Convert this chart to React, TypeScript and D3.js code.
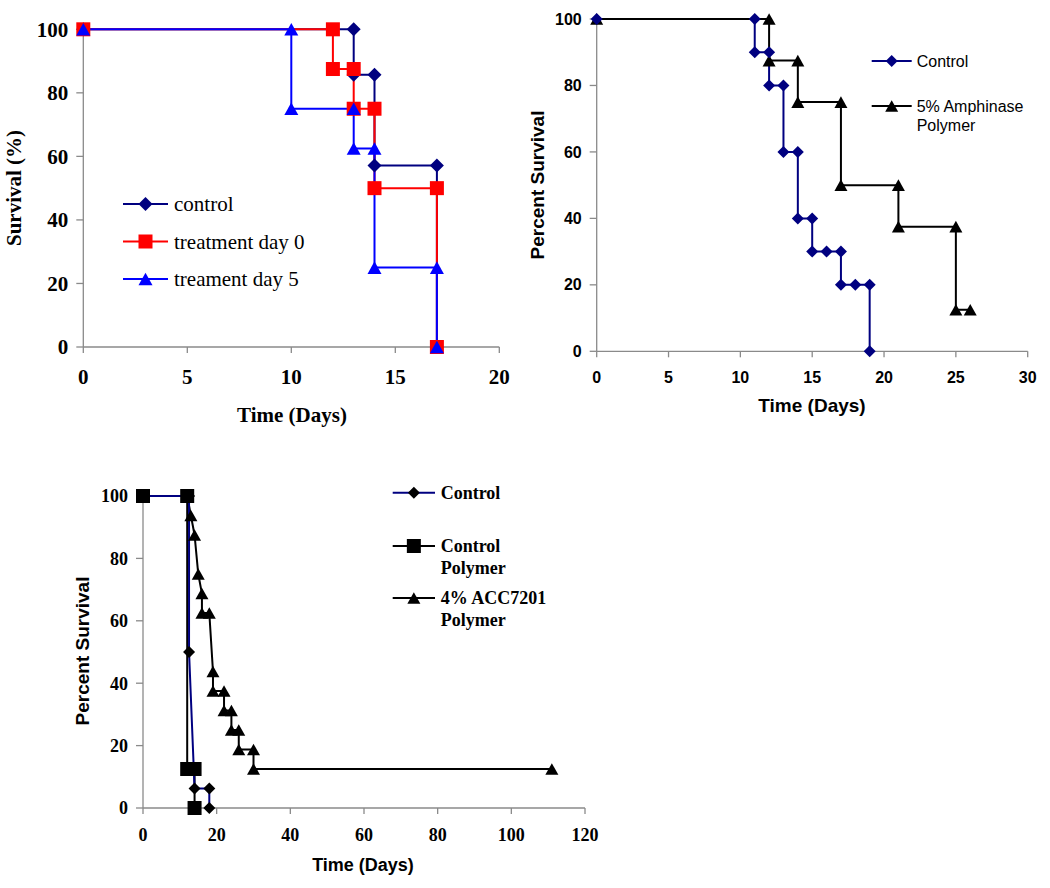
import React from "react";
import * as d3 from "d3";

// ---------- Panel 1 data ----------
const p1XTicks = [0, 5, 10, 15, 20];
const p1YTicks = [0, 20, 40, 60, 80, 100];
const p1ControlT = [0, 13, 13, 14, 14, 17, 17];
const p1ControlS = [100, 100, 85.7, 85.7, 57.1, 57.1, 0];
const p1Day0T = [0, 12, 12, 13, 13, 14, 14, 17, 17];
const p1Day0S = [100, 100, 87.5, 87.5, 75, 75, 50, 50, 0];
const p1Day5T = [0, 10, 10, 13, 13, 14, 14, 17, 17];
const p1Day5S = [100, 100, 75, 75, 62.5, 62.5, 25, 25, 0];
const p1Labels = ["control", "treatment day 0", "treament day 5"];

// ---------- Panel 2 data ----------
const p2XTicks = [0, 5, 10, 15, 20, 25, 30];
const p2YTicks = [0, 20, 40, 60, 80, 100];
const p2ControlT = [0, 11, 11, 12, 12, 13, 13, 14, 14, 15, 15, 16, 17, 17, 18, 19, 19];
const p2ControlS = [100, 100, 90, 90, 80, 80, 60, 60, 40, 40, 30, 30, 30, 20, 20, 20, 0];
const p2AmphT = [0, 12, 12, 14, 14, 17, 17, 21, 21, 25, 25, 26];
const p2AmphS = [100, 100, 87.5, 87.5, 75, 75, 50, 50, 37.5, 37.5, 12.5, 12.5];
const p2Labels = [["Control"], ["5% Amphinase", "Polymer"]];

// ---------- Panel 3 data ----------
const p3XTicks = [0, 20, 40, 60, 80, 100, 120];
const p3YTicks = [0, 20, 40, 60, 80, 100];
const p3ControlT = [0, 12.5, 12.5, 14, 18, 18];
const p3ControlS = [100, 100, 50, 6.25, 6.25, 0];
const p3CtrlPolyT = [0, 12, 12, 14, 14];
const p3CtrlPolyS = [100, 100, 12.5, 12.5, 0];
const p3AccT = [0, 12, 13, 14, 15, 16, 16, 18, 19, 19, 22, 22, 24, 24, 26, 26, 30, 30, 111];
const p3AccS = [100, 100, 93.75, 87.5, 75, 68.75, 62.5, 62.5, 43.75, 37.5, 37.5, 31.25, 31.25, 25, 25, 18.75, 18.75, 12.5, 12.5];
const p3Labels = [["Control"], ["Control", "Polymer"], ["4% ACC7201", "Polymer"]];

const SERIF = "'Liberation Serif', 'Times New Roman', serif";
const SANS = "'Liberation Sans', Arial, sans-serif";
const AXIS = "#8a8a8a";

type Shape = "diamond" | "square" | "triangle";

function Marker({ shape, cx, cy, size, fill }: { shape: Shape; cx: number; cy: number; size: number; fill: string }) {
  if (shape === "square") {
    return <rect x={cx - size / 2} y={cy - size / 2} width={size} height={size} fill={fill} />;
  }
  if (shape === "diamond") {
    const r = size / 2;
    return <polygon points={`${cx},${cy - r} ${cx + r},${cy} ${cx},${cy + r} ${cx - r},${cy}`} fill={fill} />;
  }
  const w = size, h = size * 0.9;
  return <polygon points={`${cx},${cy - h / 2} ${cx + w / 2},${cy + h / 2} ${cx - w / 2},${cy + h / 2}`} fill={fill} />;
}

type Series = { t: number[]; s: number[]; line: string; marker: string; shape: Shape; size: number };

function Axes({ x, y, xTicks, yTicks, font, size, weight }: any) {
  const [x0, x1] = x.range();
  const [y0, y1] = y.range();
  return (
    <g>
      <line x1={x0} x2={x0} y1={y0} y2={y1} stroke={AXIS} strokeWidth={1.3} />
      <line x1={x0} x2={x1} y1={y0} y2={y0} stroke={AXIS} strokeWidth={1.3} />
      {yTicks.map((v: number) => (
        <g key={"y" + v}>
          <line x1={x0 - 7} x2={x0} y1={y(v)} y2={y(v)} stroke={AXIS} strokeWidth={1.3} />
          <text x={x0 - 15} y={y(v)} dy="0.35em" textAnchor="end" fontFamily={font} fontSize={size} fontWeight={weight}>
            {v}
          </text>
        </g>
      ))}
      {xTicks.map((v: number) => (
        <line key={"x" + v} x1={x(v)} x2={x(v)} y1={y0} y2={y0 + 6} stroke={AXIS} strokeWidth={1.3} />
      ))}
    </g>
  );
}

function SeriesLayer({ x, y, series, markerOrder }: { x: any; y: any; series: Series[]; markerOrder: number[] }) {
  return (
    <g>
      {series.map((sr, k) => {
        const pts: [number, number][] = sr.t.map((t, i) => [x(t), y(sr.s[i])]);
        const d = d3.line()(pts) || "";
        return <path key={"l" + k} d={d} fill="none" stroke={sr.line} strokeWidth={2} />;
      })}
      {markerOrder.map((k) => {
        const sr = series[k];
        return (
          <g key={"m" + k}>
            {sr.t.map((t, i) => (
              <Marker key={i} shape={sr.shape} cx={x(t)} cy={y(sr.s[i])} size={sr.size} fill={sr.marker} />
            ))}
          </g>
        );
      })}
    </g>
  );
}

function LegendItem({ x1, x2, y, color, marker, shape, size, lines, font, fontSize, weight, textX, lh }: any) {
  return (
    <g>
      <line x1={x1} x2={x2} y1={y} y2={y} stroke={color} strokeWidth={2} />
      <Marker shape={shape} cx={(x1 + x2) / 2} cy={y} size={size} fill={marker} />
      {lines.map((l: string, i: number) => (
        <text key={i} x={textX} y={y + i * lh} dy="0.35em" fontFamily={font} fontSize={fontSize} fontWeight={weight}>
          {l}
        </text>
      ))}
    </g>
  );
}

export default function App() {
  // Panel 1
  const x1 = d3.scaleLinear().domain([0, 20]).range([83.3, 499.3]);
  const y1 = d3.scaleLinear().domain([0, 100]).range([347, 29.3]);
  const s1: Series[] = [
    { t: p1ControlT, s: p1ControlS, line: "#000080", marker: "#000080", shape: "diamond", size: 14 },
    { t: p1Day0T, s: p1Day0S, line: "#ff0000", marker: "#ff0000", shape: "square", size: 14 },
    { t: p1Day5T, s: p1Day5S, line: "#0000ff", marker: "#0000ff", shape: "triangle", size: 14 },
  ];
  // Panel 2
  const x2 = d3.scaleLinear().domain([0, 30]).range([596.7, 1027.7]);
  const y2 = d3.scaleLinear().domain([0, 100]).range([351.3, 19]);
  const s2: Series[] = [
    { t: p2ControlT, s: p2ControlS, line: "#000080", marker: "#000080", shape: "diamond", size: 12 },
    { t: p2AmphT, s: p2AmphS, line: "#000000", marker: "#000000", shape: "triangle", size: 13 },
  ];
  // Panel 3
  const x3 = d3.scaleLinear().domain([0, 120]).range([143, 585]);
  const y3 = d3.scaleLinear().domain([0, 100]).range([808, 496]);
  const s3: Series[] = [
    { t: p3CtrlPolyT, s: p3CtrlPolyS, line: "#000000", marker: "#000000", shape: "square", size: 14 },
    { t: p3AccT, s: p3AccS, line: "#000000", marker: "#000000", shape: "triangle", size: 13 },
    { t: p3ControlT, s: p3ControlS, line: "#000080", marker: "#000000", shape: "diamond", size: 12 },
  ];

  return (
    <svg width={1050} height={888} style={{ position: "absolute", left: 0, top: 0, background: "#fff" }}>
      <rect width={1050} height={888} fill="#fff" />
      {/* Panel 1 */}
      <Axes x={x1} y={y1} xTicks={p1XTicks} yTicks={p1YTicks} font={SERIF} size={21} weight="bold" />
      {p1XTicks.map((v) => (
        <text key={v} x={x1(v)} y={377} dy="0.35em" textAnchor="middle" fontFamily={SERIF} fontSize={21} fontWeight="bold">
          {v}
        </text>
      ))}
      <text x={292} y={415} dy="0.35em" textAnchor="middle" fontFamily={SERIF} fontSize={21} fontWeight="bold">
        Time (Days)
      </text>
      <text transform="translate(14,188) rotate(-90)" dy="0.35em" textAnchor="middle" fontFamily={SERIF} fontSize={21} fontWeight="bold">
        Survival (%)
      </text>
      <SeriesLayer x={x1} y={y1} series={s1} markerOrder={[0, 1, 2]} />
      {s1.map((sr, i) => (
        <LegendItem key={i} x1={123} x2={168} y={204 + i * 37.5} color={sr.line} marker={sr.marker} shape={sr.shape} size={sr.size}
          lines={[p1Labels[i]]} font={SERIF} fontSize={21} weight="normal" textX={174} lh={22} />
      ))}

      {/* Panel 2 */}
      <Axes x={x2} y={y2} xTicks={p2XTicks} yTicks={p2YTicks} font={SANS} size={16} weight="bold" />
      {p2XTicks.map((v) => (
        <text key={v} x={x2(v)} y={377} dy="0.35em" textAnchor="middle" fontFamily={SANS} fontSize={16} fontWeight="bold">
          {v}
        </text>
      ))}
      <text x={812} y={405} dy="0.35em" textAnchor="middle" fontFamily={SANS} fontSize={19} fontWeight="bold">
        Time (Days)
      </text>
      <text transform="translate(537,185) rotate(-90)" dy="0.35em" textAnchor="middle" fontFamily={SANS} fontSize={19} fontWeight="bold">
        Percent Survival
      </text>
      <SeriesLayer x={x2} y={y2} series={s2} markerOrder={[1, 0]} />
      {s2.map((sr, i) => (
        <LegendItem key={i} x1={871.7} x2={911.7} y={61 + i * 45} color={sr.line} marker={sr.marker} shape={sr.shape} size={sr.size}
          lines={p2Labels[i]} font={SANS} fontSize={16} weight="normal" textX={916.7} lh={19} />
      ))}

      {/* Panel 3 */}
      <Axes x={x3} y={y3} xTicks={p3XTicks} yTicks={p3YTicks} font={SERIF} size={18} weight="bold" />
      {p3XTicks.map((v) => (
        <text key={v} x={x3(v)} y={835} dy="0.35em" textAnchor="middle" fontFamily={SERIF} fontSize={18} fontWeight="bold">
          {v}
        </text>
      ))}
      <text x={363} y={865} dy="0.35em" textAnchor="middle" fontFamily={SANS} fontSize={18} fontWeight="bold">
        Time (Days)
      </text>
      <text transform="translate(82,651) rotate(-90)" dy="0.35em" textAnchor="middle" fontFamily={SANS} fontSize={19} fontWeight="bold">
        Percent Survival
      </text>
      <SeriesLayer x={x3} y={y3} series={s3} markerOrder={[2, 1, 0]} />
      {[2, 0, 1].map((k, i) => {
        const sr = s3[k];
        const ys = [492.7, 546, 598];
        return (
          <LegendItem key={i} x1={392.7} x2={435} y={ys[i]} color={sr.line} marker={sr.marker} shape={sr.shape} size={sr.size}
            lines={p3Labels[i]} font={SERIF} fontSize={18} weight="bold" textX={440.7} lh={22} />
        );
      })}
    </svg>
  );
}
